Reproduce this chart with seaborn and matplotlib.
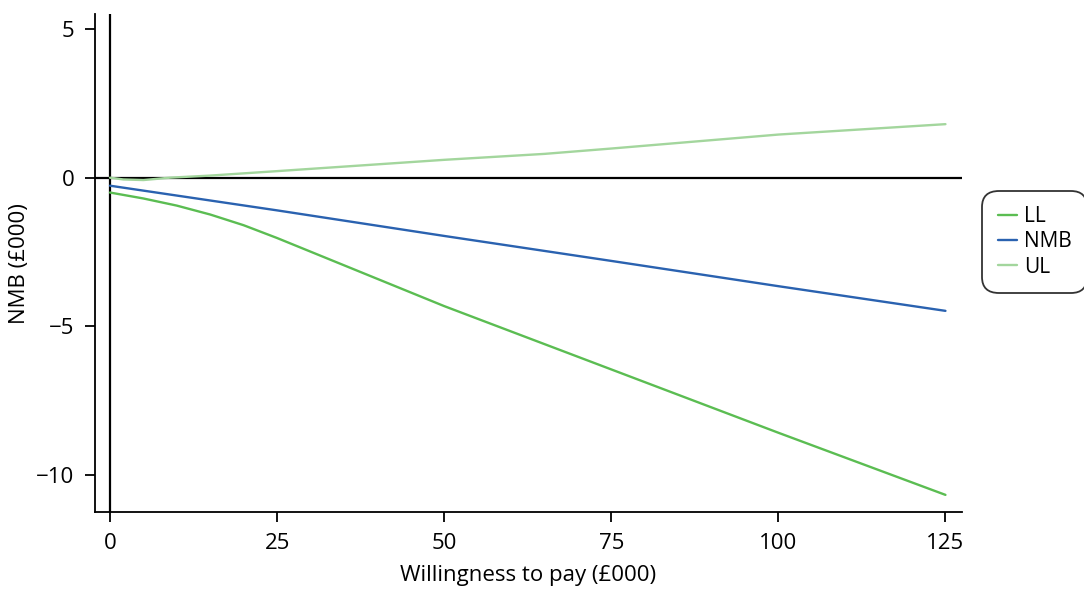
import matplotlib
import numpy as np
import pandas as pd

matplotlib.use("Agg")
import matplotlib.pyplot as plt
import seaborn as sns

sns.set_theme(style="ticks")
plt.rcParams["font.family"] = ["Open Sans", "DejaVu Sans"]
plt.rcParams["text.color"] = "black"
plt.rcParams["axes.labelcolor"] = "black"
plt.rcParams["xtick.color"] = "black"
plt.rcParams["ytick.color"] = "black"

# Data (WTP in £000, NMB in £000)
ll_wtp = [0, 5, 10, 15, 20, 25, 50, 75, 100, 125]
ll_val = [-0.5, -0.7, -0.94, -1.24, -1.6, -2.03, -4.32, -6.45, -8.58, -10.67]
nmb_wtp = [0, 25, 50, 75, 100, 125]
nmb_val = [-0.27, -1.1, -1.96, -2.8, -3.65, -4.48]
ul_wtp = [0, 2, 5, 9, 15, 25, 50, 65, 75, 100, 125]
ul_val = [0.0, -0.06, -0.08, 0.0, 0.07, 0.22, 0.6, 0.8, 0.98, 1.45, 1.8]

df = pd.concat(
    [
        pd.DataFrame({"wtp": ll_wtp, "nmb": ll_val, "series": "LL"}),
        pd.DataFrame({"wtp": nmb_wtp, "nmb": nmb_val, "series": "NMB"}),
        pd.DataFrame({"wtp": ul_wtp, "nmb": ul_val, "series": "UL"}),
    ],
    ignore_index=True,
)
palette = {"LL": "#5bbd52", "NMB": "#2a62b0", "UL": "#a3d69d"}

fig = plt.figure(figsize=(10.84, 5.9), dpi=100)
ax = fig.add_axes([0.0876, 0.132, 0.8, 0.844])

ax.axhline(0, color="black", lw=1.6, zorder=1)
ax.axvline(0, color="black", lw=1.6, zorder=1)
sns.lineplot(data=df, x="wtp", y="nmb", hue="series", palette=palette, lw=1.7, ax=ax, zorder=2)

ax.set_xlim(-2.25, 127.5)
ax.set_ylim(-11.25, 5.5)
ax.set_xticks([0, 25, 50, 75, 100, 125])
ax.set_yticks([5, 0, -5, -10])
ax.set_yticklabels(["5", "0", "\u22125", "\u221210"])
ax.set_xlabel("Willingness to pay (£000)", fontsize=16, labelpad=8)
ax.set_ylabel("NMB (£000)", fontsize=16, labelpad=4)
ax.tick_params(labelsize=16, length=7, width=1.3, pad=8, direction="out")
sns.despine(ax=ax)
for s in ["left", "bottom"]:
    ax.spines[s].set_linewidth(1.3)
    ax.spines[s].set_color("black")

leg = ax.legend(
    title=None,
    loc="center left",
    bbox_to_anchor=(0.91, 0.59),
    bbox_transform=fig.transFigure,
    fontsize=15,
    frameon=True,
    fancybox=True,
    handlelength=0.9,
    handletextpad=0.35,
    labelspacing=0.2,
    borderpad=0.55,
    borderaxespad=0,
)
leg.get_frame().set_edgecolor("black")
leg.get_frame().set_linewidth(1.3)
leg.get_frame().set_boxstyle("round,pad=0.2,rounding_size=0.8")

fig.savefig("out.png", dpi=100)
